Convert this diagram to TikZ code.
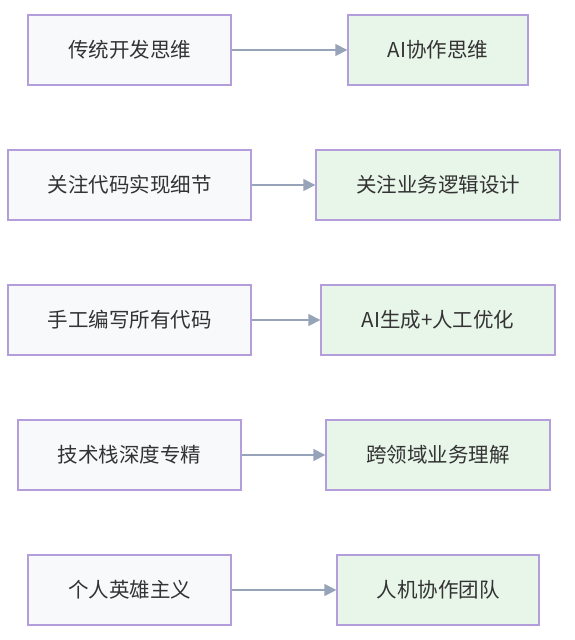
\documentclass[tikz,border=0pt]{standalone}
\usepackage{fontspec}
\setmainfont{Noto Sans CJK SC}
\usetikzlibrary{arrows.meta}
\definecolor{bord}{HTML}{B39DDB}
\definecolor{lfill}{HTML}{F8F9FB}
\definecolor{rfill}{HTML}{E8F5E9}
\definecolor{arr}{HTML}{97A3B8}
\definecolor{txt}{HTML}{333333}
\tikzset{
  base/.style={draw=bord, line width=1.3pt, minimum height=70pt, inner sep=0pt, text=txt, font=\fontsize{20.5}{24}\selectfont},
  oldbox/.style={base, fill=lfill},
  newbox/.style={base, fill=rfill},
  conn/.style={draw=arr, line width=1.3pt, -{Triangle[length=12pt,width=12pt]}}
}
\begin{document}
\begin{tikzpicture}[x=1pt,y=-1pt]
\useasboundingbox (0,0) rectangle (574,640);
\node[oldbox, minimum width=203pt] (a1) at (129.5,50) {传统开发思维};
\node[newbox, minimum width=180pt] (b1) at (438,50) {AI协作思维};
\node[oldbox, minimum width=243pt] (a2) at (129.5,185) {关注代码实现细节};
\node[newbox, minimum width=244pt] (b2) at (438,185) {关注业务逻辑设计};
\node[oldbox, minimum width=243pt] (a3) at (129.5,320) {手工编写所有代码};
\node[newbox, minimum width=234pt] (b3) at (438,320) {AI生成+人工优化};
\node[oldbox, minimum width=223pt] (a4) at (129.5,455) {技术栈深度专精};
\node[newbox, minimum width=224pt] (b4) at (438,455) {跨领域业务理解};
\node[oldbox, minimum width=203pt] (a5) at (129.5,590) {个人英雄主义};
\node[newbox, minimum width=202pt] (b5) at (438,590) {人机协作团队};
\draw[conn] (a1) -- (b1);
\draw[conn] (a2) -- (b2);
\draw[conn] (a3) -- (b3);
\draw[conn] (a4) -- (b4);
\draw[conn] (a5) -- (b5);
\end{tikzpicture}
\end{document}
